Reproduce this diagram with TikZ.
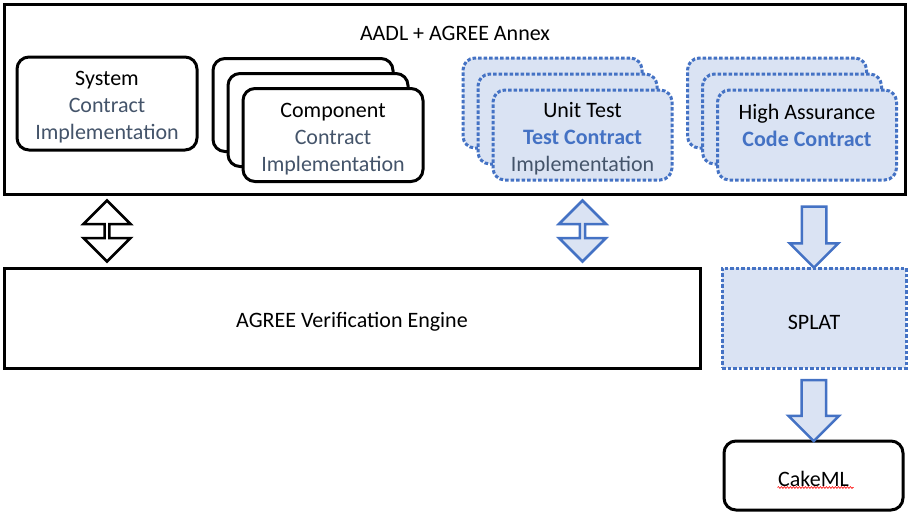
\documentclass[tikz,border=0pt]{standalone}
\usepackage{fontspec}
\setmainfont{Carlito}
\usetikzlibrary{shapes.arrows,calc,decorations.pathmorphing}
\definecolor{agblue}{HTML}{4472C4}
\definecolor{aglight}{HTML}{DAE3F3}
\definecolor{agslate}{HTML}{44546A}
\newcommand{\lowline}{\rule{0pt}{22.5pt}}

\tikzset{
  lowtext/.style={execute at begin node={\lowline}},
  card/.style={draw=black, fill=white, line width=3pt, rounded corners=12pt,
    minimum width=180pt, minimum height=93pt, align=center},
  dotcard/.style={draw=agblue, fill=aglight, line width=3pt,
    dash pattern=on 3.5pt off 2pt, rounded corners=12pt,
    minimum width=179pt, minimum height=90pt, align=center},
  plainbox/.style={draw=black, line width=3pt, minimum height=100pt, lowtext},
  blockarrow/.style={line width=2.5pt, inner xsep=0pt, minimum height=61pt},
}

\begin{document}
\begin{tikzpicture}[x=1pt, y=-1pt, font=\fontsize{22}{27}\selectfont]
\useasboundingbox (0,0) rectangle (911,515);

% annex frame
\node[draw=black, line width=3pt, minimum width=901pt, minimum height=190pt] (outer) at (454.5,99) {};
\node (title) at (455,33) {AADL + AGREE Annex};

% system
\node[card] (sys) at (107,103.5) {\lowline System\\\textcolor{agslate}{Contract}\\\textcolor{agslate}{Implementation}};

% component stack
\node[card] (compc) at (303,105) {};
\node[card] (compb) at (318,120) {};
\node[card] (comp) at (333,135) {\lowline Component\\\textcolor{agslate}{Contract}\\\textcolor{agslate}{Implementation}};

% unit test stack
\node[dotcard] (unitc) at (552.5,103) {};
\node[dotcard] (unitb) at (567.5,119) {};
\node[dotcard] (unit) at (582.5,135) {\lowline Unit Test\\\textcolor{agblue}{\textbf{Test Contract}}\\\textcolor{agslate}{Implementation}};

% high assurance stack
\node[dotcard] (highc) at (777,103) {};
\node[dotcard] (highb) at (792,119) {};
\node[dotcard] (high) at (807,135) {\lowline High Assurance\\\textcolor{agblue}{\textbf{Code Contract}}\\~};

% tools
\node[plainbox, minimum width=696pt] (engine) at (352,318) {AGREE Verification Engine};
\node[draw=agblue, fill=aglight, line width=3pt, dash pattern=on 3.5pt off 2pt,
  minimum width=184pt, minimum height=100pt, lowtext] (splat) at (814,318) {SPLAT};
\node[draw=black, line width=3pt, rounded corners=12pt, minimum width=179pt,
  minimum height=69pt, lowtext] (cake) at (813.5,475.5) {CakeML};
\draw[red, line width=0.6pt, decorate, decoration={snake, amplitude=0.9pt, segment length=3pt}]
  ($(cake.center)+(-36,12)$) -- ($(cake.center)+(40,12)$);

% block arrows
\node[blockarrow, double arrow, rotate=90, draw=black, fill=white, inner ysep=0pt,
  minimum width=47pt, double arrow head extend=11pt] (sysarrow)
  at ($(sys.south |- outer.south)!0.5!(sys.south |- engine.north)$) {};
\node[blockarrow, double arrow, rotate=90, draw=agblue, fill=aglight, inner ysep=0pt,
  minimum width=47pt, double arrow head extend=10pt] (unitarrow)
  at ($(unit.south |- outer.south)!0.5!(unit.south |- engine.north)$) {};
\node[blockarrow, single arrow, rotate=-90, draw=agblue, fill=aglight, inner ysep=11pt,
  single arrow head extend=12pt] (higharrow)
  at ($(splat.north |- outer.south)!0.5!(splat.north)$) {};
\node[blockarrow, single arrow, rotate=-90, draw=agblue, fill=aglight, inner ysep=11pt,
  single arrow head extend=13pt] (splatarrow)
  at ($(splat.south)!0.5!(cake.north)$) {};
\end{tikzpicture}
\end{document}
